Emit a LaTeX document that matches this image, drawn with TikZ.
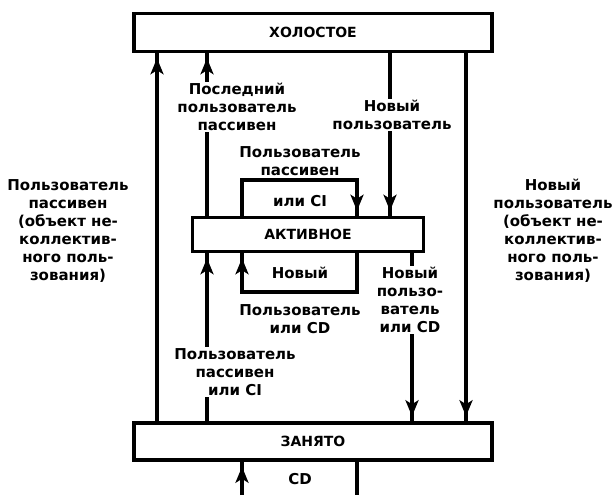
\documentclass[tikz,border=0pt]{standalone}
\usepackage{fontspec}
\setmainfont{DejaVu Sans}
\usetikzlibrary{arrows.meta,decorations.markings}
\tikzset{
    state/.style={draw, line width=3.5pt, inner sep=0pt, font=\bfseries\fontsize{14}{16}\selectfont},
    txt/.style={align=center, inner sep=1pt, font=\bfseries\fontsize{15}{18}\selectfont},
    cut/.style={txt, fill=white},
    wire/.style={line width=3.2pt},
    flow/.style={wire, postaction={decorate},
        decoration={markings, mark=at position -5pt with {\arrow{Stealth[length=16pt,width=13pt,inset=4pt]}}}},
}
\begin{document}
\begin{tikzpicture}[x=1pt, y=-1pt]
    \useasboundingbox (0,0) rectangle (612,495);
    % states
    \node (idle) at (313,32.5) [state, minimum width=358pt, minimum height=38pt] {ХОЛОСТОЕ};
    \node (active) at (308,234.5) [state, minimum width=231pt, minimum height=34pt] {АКТИВНОЕ};
    \node (busy) at (313,441.5) [state, minimum width=358pt, minimum height=37pt] {ЗАНЯТО};
    % loop corners and the cut-off ends
    \coordinate (uptop) at (242,180);
    \coordinate (lowbot) at (357,292);
    \coordinate (cdleft) at (242,495);
    \coordinate (cdright) at (357,495);
    % long connectors
    \draw[flow] (busy.north -| 157,0) -- (idle.south -| 157,0);
    \draw[flow] (idle.south -| 466,0) -- (busy.north -| 466,0);
    \draw[flow] (active.north -| 207,0) -- (idle.south -| 207,0);
    \draw[flow] (idle.south -| 390,0) -- (active.north -| 390,0);
    \draw[flow] (busy.north -| 207,0) -- (active.south -| 207,0);
    \draw[flow] (active.south -| 412,0) -- (busy.north -| 412,0);
    % loops
    \draw[flow] (active.north -| uptop) -- (uptop) -| (active.north -| 357,0);
    \draw[flow] (active.south -| lowbot) -- (lowbot) -| (active.south -| 242,0);
    \draw[flow] (cdleft) -- (busy.south -| cdleft);
    \draw[wire] (busy.south -| cdright) -- (cdright);
    % labels
    \node (lastpas) at (237,107) [cut] {Последний\\пользователь\\пассивен};
    \node (newidle) at (392,115) [cut] {Новый\\пользователь};
    \node (pasup) at (300,161) [txt] {Пользователь\\пассивен};
    \node (pasci) at (300,201) [txt] {или CI};
    \node (newin) at (300,273) [txt] {Новый};
    \node (usrcd) at (300,319) [txt] {Пользователь\\или CD};
    \node (newbusy) at (410,300) [cut] {Новый\\пользо-\\ватель\\или CD};
    \node (pasdown) at (235,372) [cut] {Пользователь\\пассивен\\или CI};
    \node (leftnote) at (68,231) [txt] {Пользователь\\пассивен\\(объект не-\\коллектив-\\ного поль-\\зования)};
    \node (rightnote) at (553,231) [txt] {Новый\\пользователь\\(объект не-\\коллектив-\\ного поль-\\зования)};
    \node (cd) at (300,479) [txt] {CD};
\end{tikzpicture}
\end{document}
